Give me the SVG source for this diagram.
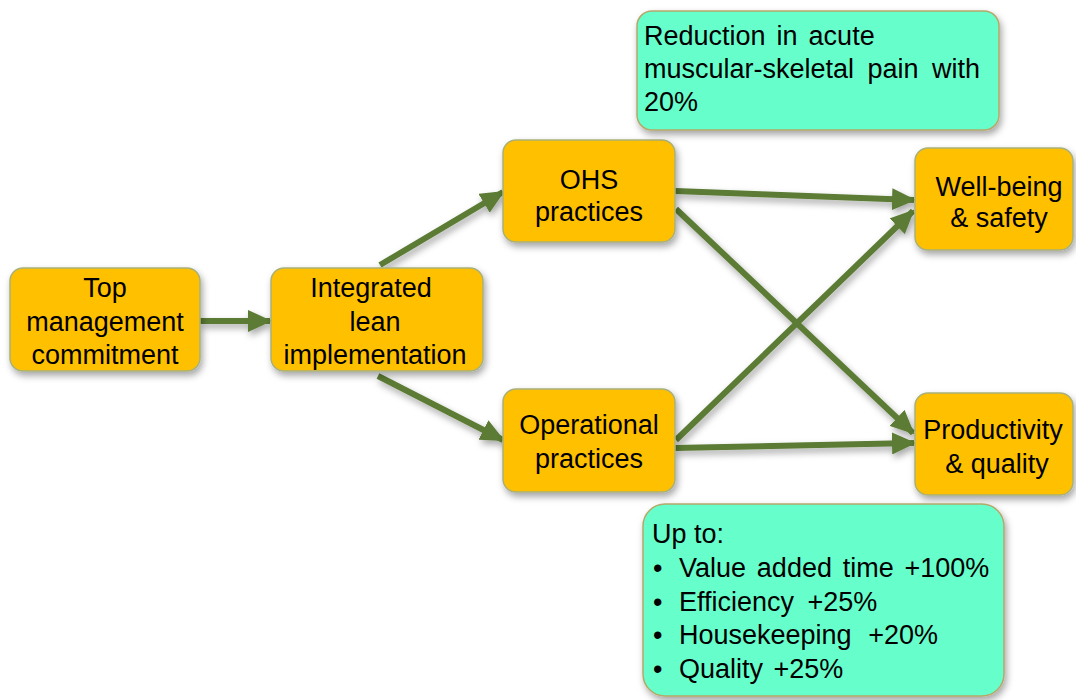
<svg xmlns="http://www.w3.org/2000/svg" width="1076" height="700" viewBox="0 0 1076 700">
<defs>
<filter id="sh" x="-20%" y="-20%" width="140%" height="150%">
<feDropShadow dx="2" dy="4" stdDeviation="3.5" flood-color="#000" flood-opacity="0.35"/>
</filter>
<marker id="ah" markerUnits="userSpaceOnUse" markerWidth="24" markerHeight="22" refX="22" refY="11" orient="auto">
<path d="M0,0 L24,11 L0,22 Z" fill="#5B7B35"/>
</marker>
<style>
.box{fill:#FFC000;stroke:#A9B07A;stroke-width:1.5;filter:url(#sh)}
.note{fill:#66FFCC;stroke:#B5A86A;stroke-width:1.5;filter:url(#sh)}
.t{font-family:"Liberation Sans",Arial,sans-serif;font-size:27px;fill:#000}
.c{text-anchor:middle}
.ln{stroke:#5B7B35;stroke-width:6;fill:none;marker-end:url(#ah)}
</style>
</defs>
<rect width="1076" height="700" fill="#fff"/>
<g id="connectors" filter="url(#sh)">
<line class="ln" x1="200" y1="321" x2="270" y2="321"/>
<line class="ln" x1="380" y1="265" x2="503" y2="192"/>
<line class="ln" x1="378" y1="376" x2="503" y2="440"/>
<line class="ln" x1="675" y1="191" x2="914" y2="200"/>
<line class="ln" x1="676" y1="209" x2="913" y2="433"/>
<line class="ln" x1="676" y1="440" x2="913" y2="211"/>
<line class="ln" x1="675" y1="448" x2="914" y2="443"/>
</g>
<g id="top">
<rect class="box" x="10" y="268" width="190" height="103" rx="13"/>
<text class="t c" x="105" y="297">Top</text>
<text class="t c" x="105" y="331">management</text>
<text class="t c" x="105" y="364">commitment</text>
</g>
<g id="integrated">
<rect class="box" x="271" y="268" width="212" height="103" rx="13"/>
<text class="t c" x="371" y="297">Integrated</text>
<text class="t c" x="375" y="331">lean</text>
<text class="t c" x="375" y="364">implementation</text>
</g>
<g id="ohs">
<rect class="box" x="503" y="140" width="172" height="102" rx="13"/>
<text class="t c" x="589" y="189">OHS</text>
<text class="t c" x="589" y="221">practices</text>
</g>
<g id="operational">
<rect class="box" x="503" y="389" width="172" height="103" rx="13"/>
<text class="t c" x="589" y="434">Operational</text>
<text class="t c" x="589" y="468">practices</text>
</g>
<g id="wellbeing">
<rect class="box" x="915" y="148" width="158" height="102" rx="13"/>
<text class="t c" x="999" y="196">Well-being</text>
<text class="t c" x="999" y="227">&amp; safety</text>
</g>
<g id="productivity">
<rect class="box" x="915" y="393" width="158" height="102" rx="13"/>
<text class="t c" x="993" y="439">Productivity</text>
<text class="t c" x="997" y="473">&amp; quality</text>
</g>
<g id="reduction">
<rect class="note" x="637" y="11" width="362" height="119" rx="15"/>
<text class="t" x="644" y="45" word-spacing="3.5">Reduction in acute</text>
<text class="t" x="644" y="78" word-spacing="6">muscular-skeletal pain with</text>
<text class="t" x="644" y="111">20%</text>
</g>
<g id="upto">
<rect class="note" x="643" y="504" width="361" height="192" rx="22"/>
<text class="t" x="652" y="543">Up to:</text>
<text class="t" x="653" y="577">•</text><text class="t" x="679" y="577" word-spacing="3.3">Value added time +100%</text>
<text class="t" x="653" y="611">•</text><text class="t" x="679" y="611" word-spacing="6">Efficiency +25%</text>
<text class="t" x="653" y="644">•</text><text class="t" x="679" y="644" word-spacing="9">Housekeeping +20%</text>
<text class="t" x="653" y="678">•</text><text class="t" x="679" y="678" word-spacing="3">Quality +25%</text>
</g>
</svg>
